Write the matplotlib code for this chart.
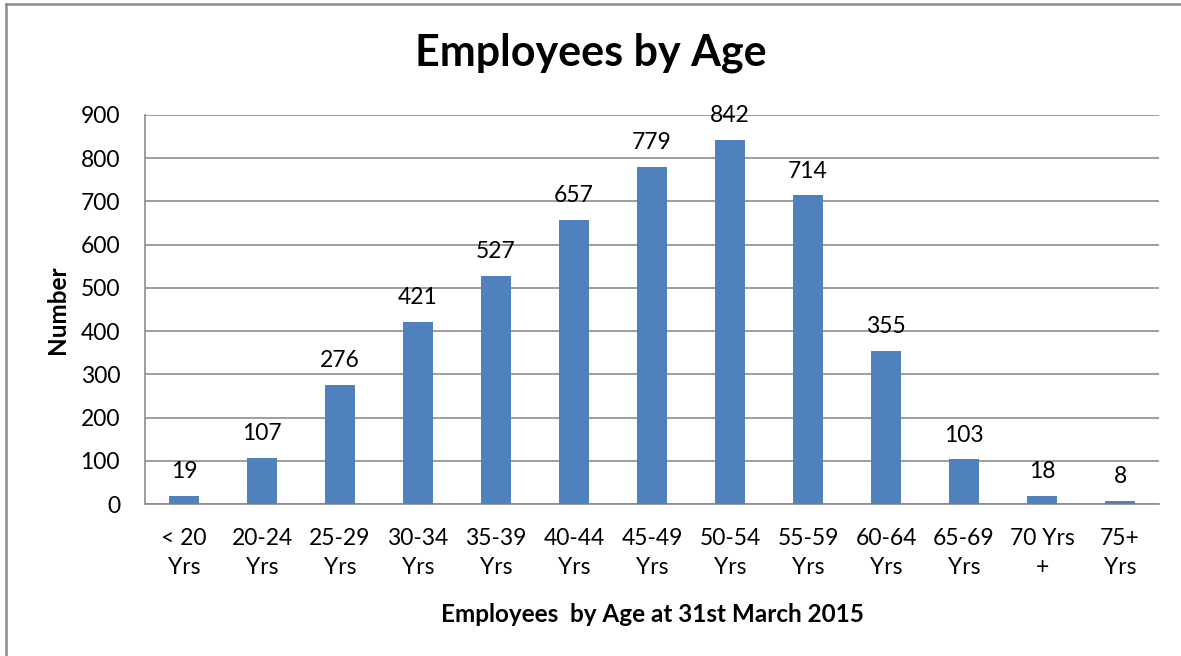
import matplotlib.pyplot as plt
import numpy as np

plt.rcParams['font.family'] = ['Lato', 'DejaVu Sans']

categories = ['< 20\nYrs', '20-24\nYrs', '25-29\nYrs', '30-34\nYrs', '35-39\nYrs', '40-44\nYrs',
              '45-49\nYrs', '50-54\nYrs', '55-59\nYrs', '60-64\nYrs', '65-69\nYrs', '70 Yrs\n+', '75+\nYrs']
counts = [19, 107, 276, 421, 527, 657, 779, 842, 714, 355, 103, 18, 8]
yticks = [0, 100, 200, 300, 400, 500, 600, 700, 800, 900]

fig = plt.figure(figsize=(11.81, 6.56), dpi=100)
ax = fig.add_axes([0.1228, 0.2317, 0.8586, 0.593])

x = np.arange(len(categories))
ax.bar(x, counts, width=0.39, color='#4F81BD', zorder=3)
for xi, v in zip(x, counts):
    ax.annotate(str(v), (xi, v), xytext=(0, 10), textcoords='offset points',
                ha='center', va='bottom', fontsize=16.5, color='black')

ax.set_xlim(-0.5, len(categories) - 0.5)
ax.set_ylim(0, 900)
ax.set_yticks(yticks)
ax.set_xticks(x)
ax.set_xticklabels(categories, fontsize=16.5, linespacing=1.5)
ax.tick_params(axis='y', labelsize=16.5, length=0, pad=18)
ax.tick_params(axis='x', length=0, pad=17)
ax.yaxis.grid(True, color='#8c8c8c', linewidth=1.2, zorder=0)
for s in ['top', 'right']:
    ax.spines[s].set_visible(False)
ax.spines['left'].set_color('#8c8c8c')
ax.spines['bottom'].set_color('#8c8c8c')
ax.spines['left'].set_linewidth(1.2)
ax.spines['bottom'].set_linewidth(1.2)

fig.text(0.5, 1 - 53 / 656, 'Employees by Age', fontsize=31, fontweight='bold',
         ha='center', va='center')
ax.set_xlabel('Employees  by Age at 31st March 2015', fontsize=17.5, fontweight='bold', labelpad=18)
ax.set_ylabel('Number', fontsize=17.5, fontweight='bold', labelpad=8)

# chart border (only top and left edges visible in the frame)
fig.add_artist(plt.Line2D([6 / 1181, 6 / 1181], [0, 1 - 4 / 656], transform=fig.transFigure,
                          color='#8c8c8c', linewidth=1.8))
fig.add_artist(plt.Line2D([6 / 1181, 1], [1 - 4 / 656, 1 - 4 / 656], transform=fig.transFigure,
                          color='#8c8c8c', linewidth=1.8))

fig.savefig('out.png', dpi=100)
